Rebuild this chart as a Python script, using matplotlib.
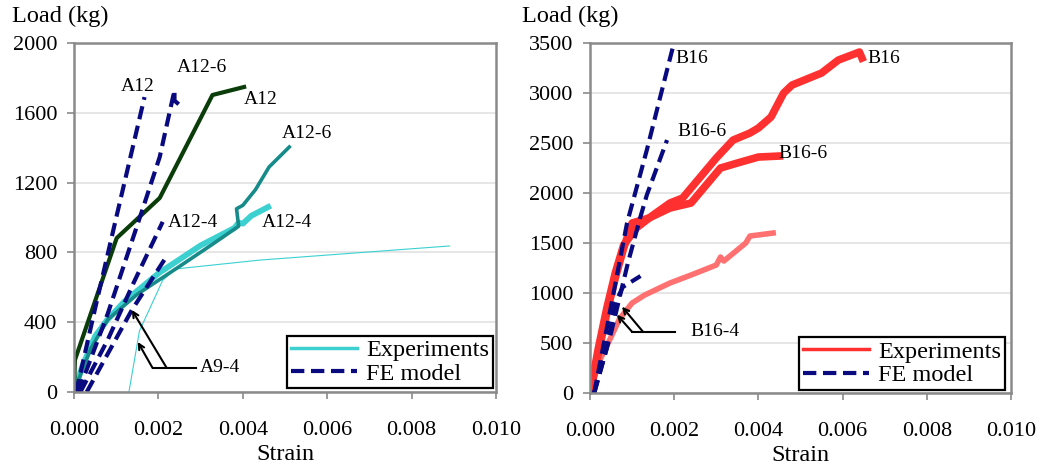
"""Load-strain curves for A and B specimens: experiments vs FE model."""

import matplotlib.pyplot as plt

plt.rcParams["font.family"] = ["Liberation Serif", "DejaVu Serif"]

# ---- left panel (A specimens) ----
a12_exp_strain = [0.0, 0.00002, 0.00101, 0.00203, 0.00328, 0.00403]
a12_exp_load = [0, 183, 882, 1112, 1702, 1748]

a12_6_exp_strain = [0.0, 0.0002, 0.0004, 0.0008, 0.0015, 0.0025, 0.0033, 0.0039,
                    0.00385, 0.004, 0.0043, 0.00462, 0.0051]
a12_6_exp_load = [0, 130, 250, 415, 560, 720, 850, 950, 1050, 1070, 1160, 1289, 1404]

a12_4_exp_strain = [0.0, 0.0002, 0.0005, 0.00078, 0.0012, 0.0020, 0.0030, 0.0038,
                    0.0039, 0.0040, 0.0042, 0.0046]
a12_4_exp_load = [0, 150, 320, 412, 520, 680, 840, 940, 970, 965, 1010, 1060]

a9_4_exp_strain = [0.0013, 0.00155, 0.0021, 0.0024, 0.0044, 0.0089]
a9_4_exp_load = [0, 350, 640, 705, 756, 837]

a12_fe_strain = [0.00005, 0.0005, 0.0010, 0.00167]
a12_fe_load = [0, 480, 1000, 1690]
a12_6_fe_strain = [0.0001, 0.0008, 0.0016, 0.00203, 0.00238, 0.00238, 0.00257]
a12_6_fe_load = [0, 450, 1030, 1347, 1730, 1670, 1630]
a12_4_fe_strain = [0.00015, 0.0008, 0.0014, 0.0021]
a12_4_fe_load = [0, 300, 620, 975]
a9_4_fe_strain = [0.0003, 0.00137, 0.0022]
a9_4_fe_load = [0, 470, 780]

# ---- right panel (B specimens) ----
b16_exp_strain = [0.0, 0.0002, 0.0004, 0.0006, 0.0008, 0.0011, 0.0015, 0.0019,
                  0.0022, 0.0026, 0.0030, 0.0034, 0.0038, 0.0040, 0.0043, 0.0046,
                  0.0048, 0.0055, 0.0059, 0.0064, 0.00646]
b16_exp_load = [0, 450, 850, 1200, 1480, 1650, 1780, 1900, 1950, 2150, 2350, 2530,
                2600, 2650, 2760, 3000, 3080, 3200, 3330, 3410, 3350]

b16_6_exp_strain = [0.0, 0.0002, 0.0004, 0.0006, 0.0008, 0.0010, 0.0014, 0.0019,
                    0.0024, 0.0028, 0.0031, 0.0035, 0.0040, 0.0045]
b16_6_exp_load = [0, 400, 800, 1150, 1450, 1700, 1750, 1850, 1900, 2100, 2250,
                  2300, 2360, 2370]

b16_4_exp_strain = [0.0, 0.0002, 0.0005, 0.0007, 0.0010, 0.0013, 0.0019, 0.0024,
                    0.0030, 0.0031, 0.00318, 0.0037, 0.0038, 0.00435]
b16_4_exp_load = [0, 300, 560, 740, 900, 980, 1100, 1180, 1280, 1360, 1320, 1500,
                  1570, 1600]

b16_fe_strain = [0.0001, 0.0004, 0.00088, 0.00135, 0.00183, 0.00197]
b16_fe_load = [0, 650, 1700, 2430, 3230, 3460]
b16_6_fe_strain = [0.0001, 0.0005, 0.0009, 0.00119, 0.00135, 0.00183]
b16_6_fe_load = [0, 600, 1300, 1750, 1980, 2530]
b16_4_fe_strain = [0.0001, 0.0004, 0.0006, 0.00078, 0.0012]
b16_4_fe_load = [0, 450, 900, 1060, 1170]

x_ticks = [0.0, 0.002, 0.004, 0.006, 0.008, 0.010]
left_y_ticks = [0, 400, 800, 1200, 1600, 2000]
right_y_ticks = [0, 500, 1000, 1500, 2000, 2500, 3000, 3500]

NAVY = "#0a0a80"
GREEN = "#0b3d0b"
TEAL = "#178a8a"
CYAN = "#3cd0d0"
RED = "#ff3030"
PINK = "#ff7070"
FE_DASH = (3.2, 1.6)


def style_axes(ax, yticks):
    ax.set_xlim(0, 0.010)
    ax.set_ylim(0, yticks[-1])
    ax.set_xticks(x_ticks)
    ax.set_xticklabels([f"{t:.3f}" for t in x_ticks])
    ax.set_yticks(yticks)
    ax.yaxis.grid(True, color="#e2e2e2", lw=1.2)
    ax.set_axisbelow(True)
    for s in ax.spines.values():
        s.set_color("#8a8a8a")
        s.set_linewidth(1.8)
    ax.tick_params(colors="#8a8a8a", labelcolor="black", labelsize=16,
                   length=5, width=1.2)
    ax.tick_params(axis="x", pad=16)
    ax.tick_params(axis="y", pad=7)
    ax.set_xlabel("Strain", fontsize=17.5, labelpad=3)


def fe(ax, x, y):
    ax.plot(x, y, color=NAVY, lw=3, dashes=FE_DASH, solid_capstyle="butt")


def add_legend(ax, exp_color, anchor):
    handles = [plt.Line2D([], [], color=exp_color, lw=2.5),
               plt.Line2D([], [], color=NAVY, lw=3, dashes=FE_DASH)]
    leg = ax.legend(handles, ["Experiments", "FE model"], loc="lower right",
                    bbox_to_anchor=anchor, fontsize=17.5, fancybox=False,
                    framealpha=1, edgecolor="black", handlelength=2.7,
                    labelspacing=0.05, borderpad=0.15, handletextpad=0.4,
                    borderaxespad=0)
    leg.get_frame().set_linewidth(1.6)


fig = plt.figure(figsize=(10.4, 4.71), dpi=100)
ax1 = fig.add_axes([0.0712, 0.1677, 0.4058, 0.741])
ax2 = fig.add_axes([0.5673, 0.1656, 0.4048, 0.743])

# left panel
ax1.plot(a9_4_exp_strain, a9_4_exp_load, color=CYAN, lw=0.8)
ax1.plot(a12_4_exp_strain, a12_4_exp_load, color=CYAN, lw=4.2)
ax1.plot(a12_6_exp_strain, a12_6_exp_load, color=TEAL, lw=2.6)
ax1.plot(a12_exp_strain, a12_exp_load, color=GREEN, lw=3)
for x, y in [(a12_fe_strain, a12_fe_load), (a12_6_fe_strain, a12_6_fe_load),
             (a12_4_fe_strain, a12_4_fe_load), (a9_4_fe_strain, a9_4_fe_load)]:
    fe(ax1, x, y)

lbl = dict(fontsize=14, ha="center", va="center")
ax1.text(0.00151, 1753, "A12", **lbl)
ax1.text(0.00302, 1862, "A12-6", **lbl)
ax1.text(0.00443, 1679, "A12", **lbl)
ax1.text(0.00552, 1484, "A12-6", **lbl)
ax1.text(0.00281, 974, "A12-4", **lbl)
ax1.text(0.00505, 974, "A12-4", **lbl)
ax1.text(0.00297, 138, "A9-4", fontsize=14, ha="left", va="center")
ax1.plot([0.00186, 0.0029], [138, 138], color="black", lw=1.5)
arrow = dict(arrowstyle="->", color="black", lw=1.5, shrinkA=0, shrinkB=0)
ax1.annotate("", xy=(0.00137, 470), xytext=(0.00219, 140), arrowprops=arrow)
ax1.annotate("", xy=(0.00151, 287), xytext=(0.00186, 138), arrowprops=arrow)
add_legend(ax1, CYAN, (0.993, 0.011))
style_axes(ax1, left_y_ticks)

# right panel
ax2.plot(b16_4_exp_strain, b16_4_exp_load, color=PINK, lw=4)
ax2.plot(b16_6_exp_strain, b16_6_exp_load, color=RED, lw=5.5)
ax2.plot(b16_exp_strain, b16_exp_load, color=RED, lw=5.5)
for x, y in [(b16_fe_strain, b16_fe_load), (b16_6_fe_strain, b16_6_fe_load),
             (b16_4_fe_strain, b16_4_fe_load)]:
    fe(ax2, x, y)

ax2.text(0.00242, 3350, "B16", **lbl)
ax2.text(0.00266, 2620, "B16-6", **lbl)
ax2.text(0.00698, 3350, "B16", **lbl)
ax2.text(0.00506, 2400, "B16-6", **lbl)
ax2.text(0.00238, 612, "B16-4", fontsize=14, ha="left", va="center")
ax2.plot([0.001, 0.00202], [612, 612], color="black", lw=1.5)
ax2.annotate("", xy=(0.00064, 783), xytext=(0.001, 612), arrowprops=arrow)
ax2.annotate("", xy=(0.00076, 863), xytext=(0.00126, 612), arrowprops=arrow)
add_legend(ax2, RED, (0.986, 0.009))
style_axes(ax2, right_y_ticks)

fig.text(12 / 1040, 1 - 16 / 471, "Load (kg)", fontsize=17.5, va="center")
fig.text(522 / 1040, 1 - 16 / 471, "Load (kg)", fontsize=17.5, va="center")

fig.savefig("out.png", dpi=100)
